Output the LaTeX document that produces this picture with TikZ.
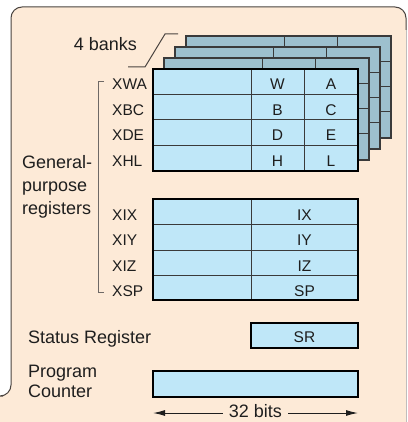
\documentclass[tikz,border=0pt]{standalone}
\usepackage{fontspec}
\setmainfont{Liberation Sans}
\usetikzlibrary{arrows.meta}
\definecolor{panelfill}{HTML}{FDEAD7}
\definecolor{panelline}{HTML}{4A4440}
\definecolor{cellfill}{HTML}{BFE7F8}
\definecolor{bankfill}{HTML}{9DC0CE}
\definecolor{gridline}{HTML}{3A3A3A}
\definecolor{inkcol}{HTML}{1E1E1E}
\begin{document}
\begin{tikzpicture}[x=1pt,y=-1pt,
  lbl/.style={font=\fontsize{18}{20}\selectfont, text=inkcol, inner sep=0pt},
  reg/.style={font=\fontsize{15.5}{17}\selectfont, text=inkcol, inner sep=0pt},
  frame/.style={draw=black, line width=2pt},
  bank/.style={fill=bankfill, draw=gridline, line width=1.4pt},
  sep/.style={draw=gridline, line width=1pt},
  dim/.style={draw=inkcol, line width=1pt, -{Latex[length=12pt,width=6pt]}}]
\useasboundingbox (0,0) rectangle (407,422);
\fill[white] (0,0) rectangle (407,422);
\fill[panelfill] (0,422) -- (0,396) -- (3,396) [rounded corners=11] -- (11,396) -- (11,7) -- (406,7) -- (406,30) [sharp corners] -- (406,422) -- cycle;
\draw[panelline, line width=1pt] (0,396) -- (3,396) [rounded corners=11] -- (11,396) -- (11,7) -- (406,7) -- (406,30);
\draw[panelline!35, line width=1pt] (406,30) -- (406,422);

\foreach \k in {3,2,1}{
  \begin{scope}[shift={(11*\k,-11*\k)}]
    \draw[bank] (153,69) rectangle (358,171);
    \foreach \y in {95,120,145} \draw[sep] (153,\y) -- (358,\y);
    \draw[sep] (251,69) -- (251,171) (304,69) -- (304,171);
  \end{scope}
}

\fill[cellfill] (153,69) rectangle (358,171);
\foreach \y in {95,120,145} \draw[sep] (153,\y) -- (358,\y);
\draw[sep] (251,69) -- (251,171) (304,69) -- (304,171);
\draw[frame] (153,69) rectangle (358,171);

\fill[cellfill] (153,199) rectangle (358,300);
\foreach \y in {224,250,275} \draw[sep] (153,\y) -- (358,\y);
\draw[sep] (251,199) -- (251,300);
\draw[frame] (153,199) rectangle (358,300);

\draw[frame, fill=cellfill] (251,323) rectangle (358,348);
\draw[frame, fill=cellfill] (153,371) rectangle (358,397);

\foreach \n/\hi/\lo [count=\i from 0] in {XWA/W/A, XBC/B/C, XDE/D/E, XHL/H/L}{
  \node[reg, anchor=base west] (r\n) at (112,90+25.4*\i) {\n};
  \node[reg, anchor=base] (h\n) at (277.5,90+25.4*\i) {\hi};
  \node[reg, anchor=base] (l\n) at (331,90+25.4*\i) {\lo};
}
\foreach \n/\s [count=\i from 0] in {XIX/IX, XIY/IY, XIZ/IZ, XSP/SP}{
  \node[reg, anchor=base west] (r\n) at (112,220.5+25.3*\i) {\n};
  \node[reg, anchor=base] (s\n) at (304.5,220.5+25.3*\i) {\s};
}
\node[reg, anchor=base] (sr) at (304.5,342.5) {SR};

\node[lbl, anchor=base east] (banks) at (137,51) {4 banks};
\coordinate (banktip) at (128,67);
\draw[panelline, line width=1pt] (banktip) -- ++(17,0) -- ++(20,-33) -- ++(13,0);

\node[lbl, anchor=north west, align=left, font=\fontsize{18}{23}\selectfont] (gpr) at (22,155) {General-\\purpose\\registers};
\draw[panelline!80, line width=1pt] (104,82) -- (98,82) -- (98,292) -- (104,292);

\node[lbl, anchor=base west] (status) at (28,343) {Status Register};
\node[lbl, anchor=north west, align=left] (pc) at (28,365) {Program\\Counter};

\node[lbl, anchor=base, inner xsep=6pt] (bits) at (255.5,417.5) {32 bits};
\coordinate (lend) at (153,413);
\coordinate (rend) at (358,413);
\draw[dim] (bits.west |- lend) -- (lend);
\draw[dim] (bits.east |- rend) -- (rend);
\end{tikzpicture}
\end{document}
